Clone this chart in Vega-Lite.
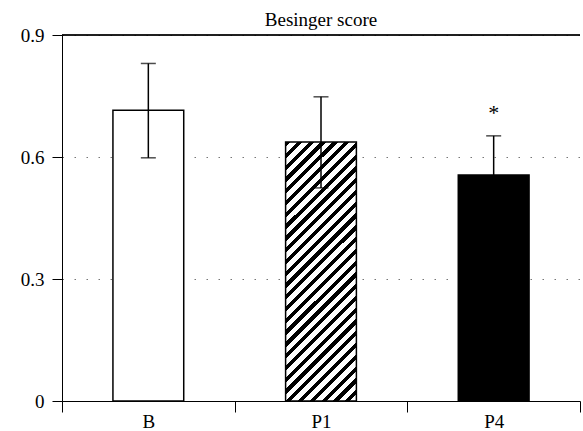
{
  "$schema": "https://vega.github.io/schema/vega-lite/v6.json",
  "autosize": {"type": "none"},
  "padding": {"left": 62, "top": 35, "right": 3, "bottom": 30},
  "width": 518,
  "height": 366,
  "title": {"text": "Besinger score", "font": "Liberation Serif", "fontSize": 19, "fontWeight": "normal", "color": "#000", "anchor": "middle", "frame": "group", "offset": -4},
  "config": {
    "view": {"stroke": null},
    "font": "Liberation Serif"
  },
  "data": {"values": [
    {"group": "B", "mean": 0.715, "lower": 0.598, "upper": 0.83, "sig": ""},
    {"group": "P1", "mean": 0.637, "lower": 0.524, "upper": 0.748, "sig": ""},
    {"group": "P4", "mean": 0.556, "lower": 0.46, "upper": 0.652, "sig": "*"}
  ]},
  "encoding": {
    "x": {"field": "group", "type": "nominal", "sort": ["B", "P1", "P4"],
      "scale": {"paddingInner": 0, "paddingOuter": 0},
      "axis": {"title": null, "labelAngle": 0, "tickBand": "extent", "tickSize": 11, "labelPadding": 0, "grid": false,
        "labelFont": "Liberation Serif", "labelFontSize": 19, "labelColor": "#000", "domainColor": "#000", "tickColor": "#000", "domainWidth": 1, "tickWidth": 1}}
  },
  "layer": [
    {
      "mark": {"type": "bar", "width": {"band": 0.41}, "stroke": "#000", "strokeWidth": 1.5, "fill": "#fff"},
      "transform": [{"filter": "datum.group === 'B'"}],
      "encoding": {
        "y": {"field": "mean", "type": "quantitative",
          "scale": {"domain": [0, 0.9], "nice": false},
          "axis": {"title": null, "values": [0, 0.3, 0.6, 0.9], "format": "~g", "tickSize": 10, "labelPadding": 8, "grid": true, "gridDash": [1.5, 10.5], "gridColor": "#777", "gridWidth": 1,
            "labelFont": "Liberation Serif", "labelFontSize": 19, "labelColor": "#000", "domainColor": "#000", "tickColor": "#000", "domainWidth": 1, "tickWidth": 1}}
      }
    },
    {
      "mark": {"type": "bar", "width": {"band": 0.41}, "stroke": "#000", "strokeWidth": 1.5,
        "fill": {"gradient": "linear", "x1": 0, "y1": 0, "x2": 0.3233, "y2": 1.1846, "stops": [
          {"offset": 0, "color": "#000"}, {"offset": 0.016, "color": "#000"}, {"offset": 0.016, "color": "#fff"}, {"offset": 0.0357, "color": "#fff"},
          {"offset": 0.0357, "color": "#000"}, {"offset": 0.0517, "color": "#000"}, {"offset": 0.0517, "color": "#fff"}, {"offset": 0.0714, "color": "#fff"},
          {"offset": 0.0714, "color": "#000"}, {"offset": 0.0874, "color": "#000"}, {"offset": 0.0874, "color": "#fff"}, {"offset": 0.1071, "color": "#fff"},
          {"offset": 0.1071, "color": "#000"}, {"offset": 0.1231, "color": "#000"}, {"offset": 0.1231, "color": "#fff"}, {"offset": 0.1429, "color": "#fff"},
          {"offset": 0.1429, "color": "#000"}, {"offset": 0.1589, "color": "#000"}, {"offset": 0.1589, "color": "#fff"}, {"offset": 0.1786, "color": "#fff"},
          {"offset": 0.1786, "color": "#000"}, {"offset": 0.1946, "color": "#000"}, {"offset": 0.1946, "color": "#fff"}, {"offset": 0.2143, "color": "#fff"},
          {"offset": 0.2143, "color": "#000"}, {"offset": 0.2303, "color": "#000"}, {"offset": 0.2303, "color": "#fff"}, {"offset": 0.25, "color": "#fff"},
          {"offset": 0.25, "color": "#000"}, {"offset": 0.266, "color": "#000"}, {"offset": 0.266, "color": "#fff"}, {"offset": 0.2857, "color": "#fff"},
          {"offset": 0.2857, "color": "#000"}, {"offset": 0.3017, "color": "#000"}, {"offset": 0.3017, "color": "#fff"}, {"offset": 0.3214, "color": "#fff"},
          {"offset": 0.3214, "color": "#000"}, {"offset": 0.3374, "color": "#000"}, {"offset": 0.3374, "color": "#fff"}, {"offset": 0.3571, "color": "#fff"},
          {"offset": 0.3571, "color": "#000"}, {"offset": 0.3731, "color": "#000"}, {"offset": 0.3731, "color": "#fff"}, {"offset": 0.3929, "color": "#fff"},
          {"offset": 0.3929, "color": "#000"}, {"offset": 0.4089, "color": "#000"}, {"offset": 0.4089, "color": "#fff"}, {"offset": 0.4286, "color": "#fff"},
          {"offset": 0.4286, "color": "#000"}, {"offset": 0.4446, "color": "#000"}, {"offset": 0.4446, "color": "#fff"}, {"offset": 0.4643, "color": "#fff"},
          {"offset": 0.4643, "color": "#000"}, {"offset": 0.4803, "color": "#000"}, {"offset": 0.4803, "color": "#fff"}, {"offset": 0.5, "color": "#fff"},
          {"offset": 0.5, "color": "#000"}, {"offset": 0.516, "color": "#000"}, {"offset": 0.516, "color": "#fff"}, {"offset": 0.5357, "color": "#fff"},
          {"offset": 0.5357, "color": "#000"}, {"offset": 0.5517, "color": "#000"}, {"offset": 0.5517, "color": "#fff"}, {"offset": 0.5714, "color": "#fff"},
          {"offset": 0.5714, "color": "#000"}, {"offset": 0.5874, "color": "#000"}, {"offset": 0.5874, "color": "#fff"}, {"offset": 0.6071, "color": "#fff"},
          {"offset": 0.6071, "color": "#000"}, {"offset": 0.6231, "color": "#000"}, {"offset": 0.6231, "color": "#fff"}, {"offset": 0.6429, "color": "#fff"},
          {"offset": 0.6429, "color": "#000"}, {"offset": 0.6589, "color": "#000"}, {"offset": 0.6589, "color": "#fff"}, {"offset": 0.6786, "color": "#fff"},
          {"offset": 0.6786, "color": "#000"}, {"offset": 0.6946, "color": "#000"}, {"offset": 0.6946, "color": "#fff"}, {"offset": 0.7143, "color": "#fff"},
          {"offset": 0.7143, "color": "#000"}, {"offset": 0.7303, "color": "#000"}, {"offset": 0.7303, "color": "#fff"}, {"offset": 0.75, "color": "#fff"},
          {"offset": 0.75, "color": "#000"}, {"offset": 0.766, "color": "#000"}, {"offset": 0.766, "color": "#fff"}, {"offset": 0.7857, "color": "#fff"},
          {"offset": 0.7857, "color": "#000"}, {"offset": 0.8017, "color": "#000"}, {"offset": 0.8017, "color": "#fff"}, {"offset": 0.8214, "color": "#fff"},
          {"offset": 0.8214, "color": "#000"}, {"offset": 0.8374, "color": "#000"}, {"offset": 0.8374, "color": "#fff"}, {"offset": 0.8571, "color": "#fff"},
          {"offset": 0.8571, "color": "#000"}, {"offset": 0.8731, "color": "#000"}, {"offset": 0.8731, "color": "#fff"}, {"offset": 0.8929, "color": "#fff"},
          {"offset": 0.8929, "color": "#000"}, {"offset": 0.9089, "color": "#000"}, {"offset": 0.9089, "color": "#fff"}, {"offset": 0.9286, "color": "#fff"},
          {"offset": 0.9286, "color": "#000"}, {"offset": 0.9446, "color": "#000"}, {"offset": 0.9446, "color": "#fff"}, {"offset": 0.9643, "color": "#fff"},
          {"offset": 0.9643, "color": "#000"}, {"offset": 0.9803, "color": "#000"}, {"offset": 0.9803, "color": "#fff"}, {"offset": 1, "color": "#fff"}
        ]}},
      "transform": [{"filter": "datum.group === 'P1'"}],
      "encoding": {"y": {"field": "mean", "type": "quantitative"}}
    },
    {
      "mark": {"type": "bar", "width": {"band": 0.41}, "stroke": "#000", "strokeWidth": 1.5, "fill": "#000"},
      "transform": [{"filter": "datum.group === 'P4'"}],
      "encoding": {"y": {"field": "mean", "type": "quantitative"}}
    },
    {
      "mark": {"type": "rule", "color": "#000", "strokeWidth": 1},
      "encoding": {"y": {"datum": 0.9}, "x": null}
    },
    {
      "mark": {"type": "rule", "color": "#000", "strokeWidth": 1.5},
      "encoding": {"y": {"field": "lower", "type": "quantitative"}, "y2": {"field": "upper"}}
    },
    {
      "mark": {"type": "tick", "color": "#000", "size": 15, "thickness": 1.5, "orient": "horizontal"},
      "encoding": {"y": {"field": "upper", "type": "quantitative"}}
    },
    {
      "mark": {"type": "tick", "color": "#000", "size": 15, "thickness": 1.5, "orient": "horizontal"},
      "encoding": {"y": {"field": "lower", "type": "quantitative"}}
    },
    {
      "mark": {"type": "text", "font": "Liberation Serif", "fontSize": 22, "baseline": "alphabetic", "dy": -16, "color": "#000"},
      "encoding": {"y": {"field": "upper", "type": "quantitative"}, "text": {"field": "sig"}}
    }
  ]
}
